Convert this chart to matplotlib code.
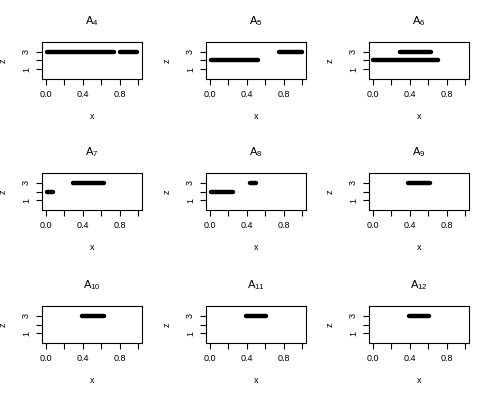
import matplotlib
matplotlib.use("Agg")
import matplotlib.pyplot as plt

plt.rcParams['font.family'] = ['Liberation Sans', 'DejaVu Sans']
plt.rcParams['mathtext.fontset'] = 'custom'
plt.rcParams['mathtext.rm'] = 'Liberation Sans'
plt.rcParams['mathtext.it'] = 'Liberation Sans:italic'

# panel names and the runs of points (x start, x end, z) seen in each panel
names = ['4', '5', '6', '7', '8', '9', '10', '11', '12']
runs = [
    [(0.01, 0.74, 3), (0.80, 0.99, 3)],
    [(0.01, 0.52, 2), (0.745, 1.00, 3)],
    [(0.30, 0.63, 3), (0.005, 0.71, 2)],
    [(0.01, 0.08, 2), (0.30, 0.63, 3)],
    [(0.01, 0.25, 2), (0.43, 0.50, 3)],
    [(0.38, 0.62, 3)],
    [(0.39, 0.63, 3)],
    [(0.39, 0.61, 3)],
    [(0.39, 0.61, 3)],
]
xticks = [0.0, 0.2, 0.4, 0.6, 0.8, 1.0]
xticklabels = ['0.0', '', '0.4', '', '0.8', '']
zticks = [1, 2, 3]
zticklabels = ['1', '', '3']

W, H = 491, 396
fig = plt.figure(figsize=(W / 100, H / 100), dpi=100)

lefts = [42, 206, 369]
tops = [42, 173, 306]
bw, bh = 100, 37

for i, (nm, rr) in enumerate(zip(names, runs)):
    r, c = divmod(i, 3)
    ax = fig.add_axes([lefts[c] / W, 1 - (tops[r] + bh) / H, bw / W, bh / H])
    for x0, x1, z in rr:
        ax.plot([x0, x1], [z, z], color='black', lw=3.2, solid_capstyle='round')
    ax.set_xlim(-0.04, 1.04)
    ax.set_ylim(-0.16, 4.16)
    ax.set_xticks(xticks)
    ax.set_xticklabels(xticklabels)
    ax.set_yticks(zticks)
    ax.set_yticklabels(zticklabels, rotation=90, va='center')
    ax.tick_params(direction='out', length=4, width=0.8, labelsize=6.5, pad=4)
    for s in ax.spines.values():
        s.set_linewidth(0.8)
    ax.set_title(r'$\mathrm{A}_{%s}$' % nm, fontsize=8, pad=13)
    ax.set_xlabel('x', fontsize=6.5, labelpad=9)
    ax.set_ylabel('z', fontsize=6.5, labelpad=10)

fig.savefig('out.png', dpi=100)
